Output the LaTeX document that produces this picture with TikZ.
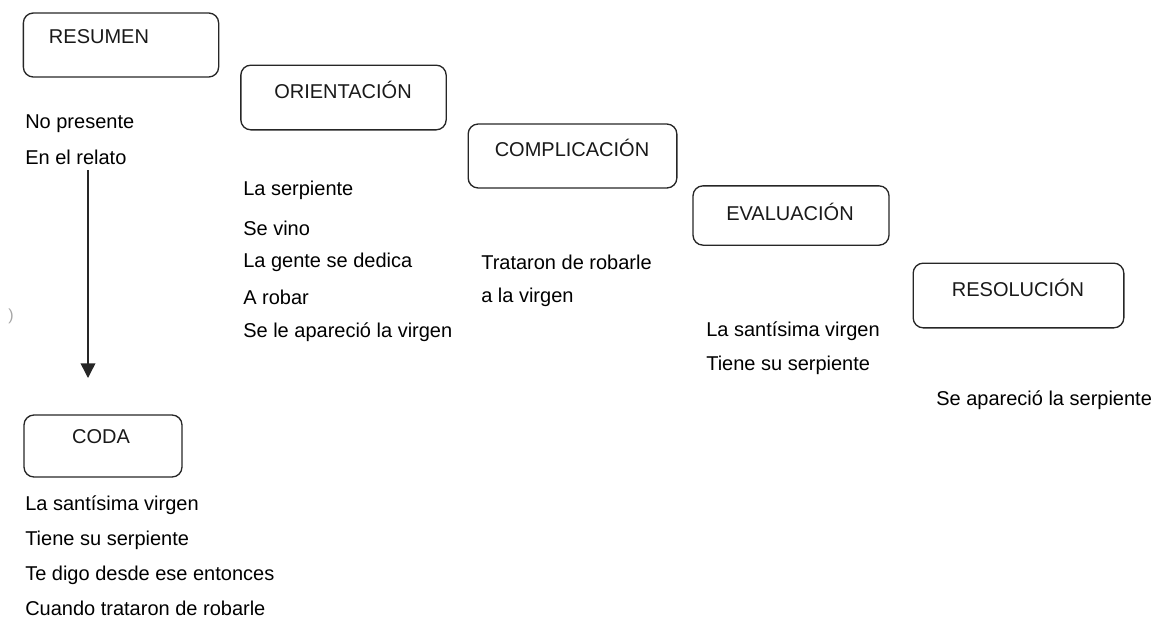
\documentclass[tikz,border=0pt]{standalone}
\usepackage{fontspec}
\setmainfont{Liberation Sans}
\usetikzlibrary{arrows.meta}
\begin{document}
\begin{tikzpicture}[x=0.75pt,y=-0.75pt,
  box/.style={draw=black!85, line width=1pt, rounded corners=7.5pt, inner sep=0pt},
  txt/.style={anchor=west, inner sep=0pt, font=\fontsize{15}{17}\selectfont, text=black},
  lbl/.style={inner sep=0pt, font=\fontsize{15}{17}\selectfont, text=black!90}]
\useasboundingbox (0,0) rectangle (1160,618);
% boxes
\node[box, minimum width=146.5pt, minimum height=48pt] (resumen) at (121,45) {};
\node[box, minimum width=154pt, minimum height=48.5pt] (orient) at (343.5,97.5) {};
\node[box, minimum width=156.5pt, minimum height=48pt] (compl) at (572.5,156) {};
\node[box, minimum width=147pt, minimum height=44.5pt] (eval) at (791,215.5) {};
\node[box, minimum width=158pt, minimum height=48.5pt] (resol) at (1018.5,295.5) {};
\node[box, minimum width=118.5pt, minimum height=46.5pt] (coda) at (103,446) {};
% box labels
\node[lbl] (lresumen) at (99,37) {RESUMEN};
\node[lbl] (lorient) at (343,90) {ORIENTACIÓN};
\node[lbl] (lcompl) at (572,148) {COMPLICACIÓN};
\node[lbl] (leval) at (790,212) {EVALUACIÓN};
\node[lbl] (lresol) at (1018,288) {RESOLUCIÓN};
\node[lbl] (lcoda) at (101,437) {CODA};
% texts
\node[txt] (r1) at (25,124) {No presente};
\node[txt] (r2) at (25,157) {En el relato};
\node[txt] (o1) at (243,190) {La serpiente};
\node[txt] (o2) at (243,228) {Se vino};
\node[txt] (o3) at (243,262) {La gente se dedica};
\node[txt] (o4) at (243,297) {A robar};
\node[txt] (o5) at (243,332) {Se le apareció la virgen};
\node[txt] (c1) at (481,262) {Trataron de robarle};
\node[txt] (c2) at (481,297) {a la virgen};
\node[txt] (e1) at (706,331) {La santísima virgen};
\node[txt] (e2) at (706,365) {Tiene su serpiente};
\node[txt] (s1) at (936,400) {Se apareció la serpiente};
\node[txt] (d1) at (25,505) {La santísima virgen};
\node[txt] (d2) at (25,540) {Tiene su serpiente};
\node[txt] (d3) at (25,575) {Te digo desde ese entonces};
\node[txt] (d4) at (25,608) {Cuando trataron de robarle};
% stray mark
\node[inner sep=0pt, font=\fontsize{12}{14}\selectfont, text=black!35] (mark) at (11,316) {)};
% arrow
\coordinate (a0) at (88,170);
\coordinate (a1) at (88,378);
\draw[line width=1.1pt, black!85, -{Triangle[width=11pt,length=11pt]}] (a0) -- (a1);
\end{tikzpicture}
\end{document}
